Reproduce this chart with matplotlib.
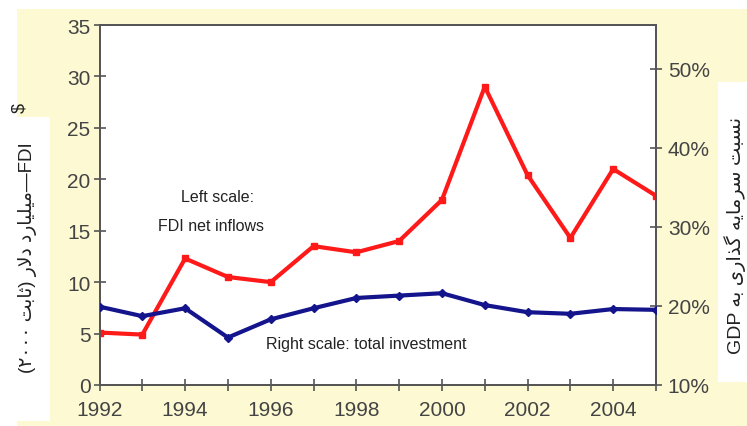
import matplotlib
matplotlib.use('Agg')
import matplotlib.pyplot as plt
from matplotlib.patches import Rectangle

# data
years = list(range(1992, 2006))
fdi = [5.1, 4.9, 12.3, 10.5, 10.0, 13.5, 12.9, 14.0, 18.0, 29.0, 20.4, 14.3, 21.0, 18.4]
invest = [19.9, 18.7, 19.7, 16.0, 18.3, 19.7, 21.0, 21.3, 21.6, 20.1, 19.2, 19.0, 19.6, 19.5]
left_ticks = [0, 5, 10, 15, 20, 25, 30, 35]
right_ticks = [10, 20, 30, 40, 50]
year_labels = ['1992', '', '1994', '', '1996', '', '1998', '', '2000', '', '2002', '', '2004', '']

# Persian labels written in visual order with presentation forms (no shaping in matplotlib)
milyard = '\uFEA9\uFEAD\uFE8E\uFBFF\uFEE0\uFBFF\uFEE3'
dolar = '\uFEAD\uFEFB\uFEA9'
sabet = '\uFE96\uFE91\uFE8E\uFE9B'
left_label = '(\u06F2\u06F0\u06F0\u06F0 ' + sabet + ') ' + dolar + ' ' + milyard + '\u2014FDI'
be = '\uFEEA\uFE91'
gozari = '\uFBFC\uFEAD\uFE8D\uFEAC\uFB94'
sarmaye = '\uFEEA\uFBFE\uFE8E\uFEE3\uFEAE\uFEB3'
nesbat = '\uFE96\uFE92\uFEB4\uFEE7'
right_label = 'GDP ' + be + ' ' + gozari + ' ' + sarmaye + ' ' + nesbat

fonts = ['Liberation Sans', 'DejaVu Sans']
plt.rcParams['font.family'] = fonts
yellow = '#fcf9d3'
grey = '#444444'

fig = plt.figure(figsize=(7.47, 4.27), dpi=100)
fig.patch.set_facecolor(yellow)
W, H = 747.0, 427.0
# white patches around the yellow background
for (x0, y0, x1, y1) in [(0, 0, 747, 10), (0, 0, 17, 427), (0, 118, 50, 422), (718, 83, 747, 383)]:
    fig.patches.append(Rectangle((x0 / W, 1 - y1 / H), (x1 - x0) / W, (y1 - y0) / H,
                                 transform=fig.transFigure, facecolor='white',
                                 edgecolor='none', zorder=0))

ax = fig.add_axes([99.5 / W, 1 - 386 / H, (656 - 99.5) / W, (386 - 26) / H])
ax.set_facecolor('white')
ax2 = ax.twinx()

ax.plot(years, fdi, color='#ff1a1a', lw=3, marker='s', ms=5, zorder=3)
ax2.plot(years, invest, color='#14148c', lw=3, marker='D', ms=4.5, zorder=3)

ax.set_xlim(1992, 2005)
ax.set_ylim(0, 35)
ax2.set_ylim(10, 55.5)
ax.set_xticks(years)
ax.set_xticklabels(year_labels)
ax.set_yticks(left_ticks)
ax2.set_yticks(right_ticks)
ax2.set_yticklabels([str(t) + '%' for t in right_ticks])

for a in (ax, ax2):
    for s in a.spines.values():
        s.set_color('#555555')
        s.set_linewidth(1.3)
    a.tick_params(direction='inout', length=9, width=1.2, color='#555555',
                  labelsize=15, labelcolor=grey)
ax.tick_params(axis='x', pad=6)
ax.tick_params(axis='y', pad=2)
ax2.tick_params(axis='y', pad=4)

# annotations inside the plot
fig.text(218 / W, 1 - 198 / H, 'Left scale:', ha='center', va='center', fontsize=11.5, color='#222222')
fig.text(211 / W, 1 - 227 / H, 'FDI net inflows', ha='center', va='center', fontsize=11.5, color='#222222')
fig.text(366 / W, 1 - 345 / H, 'Right scale: total investment', ha='center', va='center',
         fontsize=11.5, color='#222222')

# axis titles
fig.text(28 / W, 1 - 258 / H, left_label, rotation=90, ha='center', va='center',
         fontsize=13.5, color='#222222', family=fonts)
fig.text(20 / W, 1 - 108 / H, '$', rotation=90, ha='center', va='center',
         fontsize=13, color='#222222')
fig.text(735 / W, 1 - 235 / H, right_label, rotation=90, ha='center', va='center',
         fontsize=14, color='#222222', family=fonts)

fig.savefig('out.png', dpi=100, facecolor=fig.get_facecolor())
